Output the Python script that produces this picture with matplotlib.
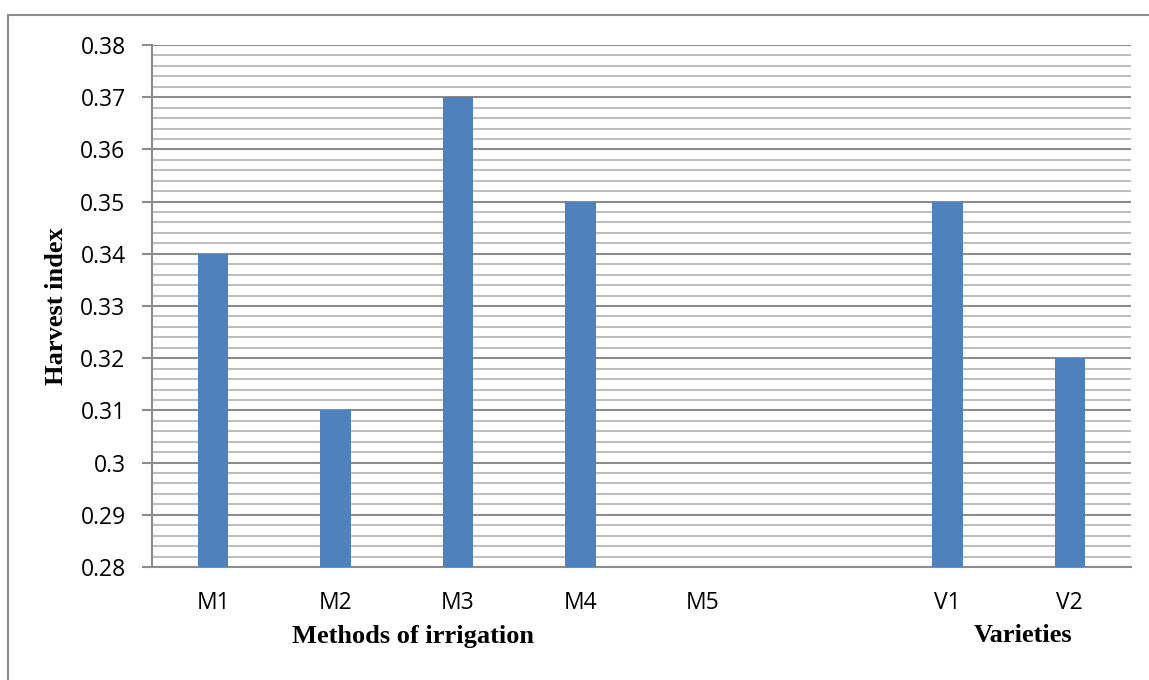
import matplotlib
matplotlib.use("Agg")
import matplotlib.pyplot as plt
import numpy as np
from matplotlib.lines import Line2D
from matplotlib.ticker import MultipleLocator

categories = ["M1", "M2", "M3", "M4", "M5", "", "V1", "V2"]
values = [0.34, 0.31, 0.37, 0.35, np.nan, np.nan, 0.35, 0.32]
y_ticks = [0.28, 0.29, 0.30, 0.31, 0.32, 0.33, 0.34, 0.35, 0.36, 0.37, 0.38]
y_tick_labels = ["0.28", "0.29", "0.3", "0.31", "0.32", "0.33", "0.34", "0.35", "0.36", "0.37", "0.38"]

W, H = 1149, 680
fig = plt.figure(figsize=(W / 100, H / 100), dpi=100)
ax = fig.add_axes([152 / W, 1 - 567 / H, (1131 - 152) / W, (567 - 45) / H])

x = np.arange(len(categories))
ax.bar(x, values, width=0.25, color="#4f81bd", zorder=3)

ax.set_xlim(-0.5, len(categories) - 0.5)
ax.set_ylim(0.28, 0.38)
ax.set_yticks(y_ticks)
ax.set_yticklabels(y_tick_labels)
ax.yaxis.set_minor_locator(MultipleLocator(0.002))
ax.set_xticks(x)
ax.set_xticklabels(categories)

ax.grid(which="major", axis="y", color="#8c8c8c", linewidth=1.5, zorder=0)
ax.grid(which="minor", axis="y", color="#bfbfbf", linewidth=1.5, zorder=0)
ax.set_axisbelow(True)

for s in ["top", "right"]:
    ax.spines[s].set_visible(False)
for s in ["left", "bottom"]:
    ax.spines[s].set_color("#8c8c8c")
    ax.spines[s].set_linewidth(1.5)

tick_font = "Open Sans"
ax.tick_params(axis="y", which="major", length=7, width=1.5, color="#8c8c8c",
               labelsize=16.5, pad=12)
ax.tick_params(axis="y", which="minor", length=0)
ax.tick_params(axis="x", length=0, labelsize=16.5, pad=17)
for lbl in ax.get_xticklabels() + ax.get_yticklabels():
    lbl.set_fontfamily(tick_font)

serif = "Liberation Serif"
fig.text(57 / W, 1 - 306 / H, "Harvest index", rotation=90, ha="center", va="center",
         fontsize=19, fontweight="bold", fontfamily=serif)
fig.text(413 / W, 1 - 637 / H, "Methods of irrigation", ha="center", va="center",
         fontsize=19, fontweight="bold", fontfamily=serif)
fig.text(1023 / W, 1 - 636 / H, "Varieties", ha="center", va="center",
         fontsize=19, fontweight="bold", fontfamily=serif)

# outer frame lines
fig.add_artist(Line2D([8 / W, 1.0], [1 - 15 / H, 1 - 15 / H], color="#8c8c8c", linewidth=1.5,
                      transform=fig.transFigure))
fig.add_artist(Line2D([8 / W, 8 / W], [1 - 15 / H, 0.0], color="#8c8c8c", linewidth=1.5,
                      transform=fig.transFigure))

fig.savefig("out.png", dpi=100, facecolor="white")
